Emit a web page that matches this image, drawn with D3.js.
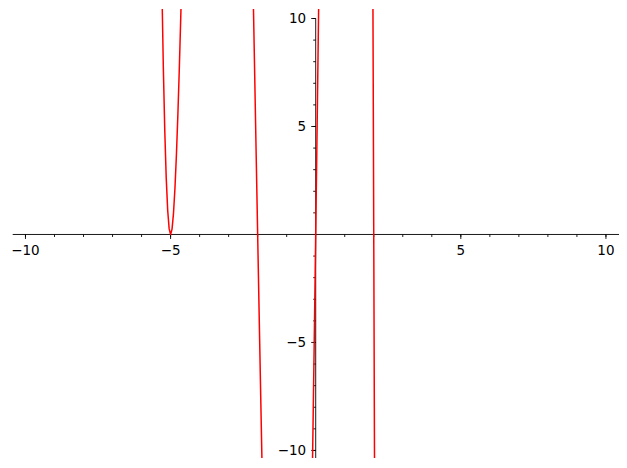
<!DOCTYPE html>
<html>
<head>
<meta charset="utf-8">
<script src="https://cdn.jsdelivr.net/npm/d3@7"></script>
<style>
  html, body { margin: 0; padding: 0; background: #fff; }
  svg { display: block; }
  text { font-family: "DejaVu Sans", sans-serif; font-size: 13.5px; fill: #000; }
</style>
</head>
<body>
<svg id="chart" width="627" height="468"></svg>
<script>
// Curve samples (x, y); values outside the view are clipped.
const curveX = [-5.4, -5.35, -5.3, -5.25, -5.2, -5.15, -5.1, -5.05, -5.0, -4.95, -4.9, -4.85, -4.8, -4.75, -4.7, -4.65, -4.6, -4.5,
                -2.2, -2.15, -2.1, -2.05, -2.0, -1.95, -1.9, -1.85, -1.8, -1.0,
                -0.2, -0.15, -0.1, -0.05, 0.0, 0.05, 0.1, 0.15, 1.0,
                1.95, 1.97, 1.975, 1.98, 1.99, 2.0, 2.01, 2.02, 2.025, 2.03];
const curveY = [21.0, 16.14, 11.49, 7.73, 4.79, 2.61, 1.12, 0.27, 0.0, 0.25, 0.98, 2.13, 3.66, 5.51, 7.65, 10.04, 12.63, 18.3,
                14.49, 10.87, 7.24, 3.61, 0.0, -3.58, -7.12, -10.60, -14.01, -48.0,
                -18.25, -14.03, -9.58, -4.90, 0.0, 5.10, 10.38, 15.82, 108.0,
                18.60, 11.40, 9.55, 7.68, 3.88, 0.0, -3.96, -8.00, -10.06, -12.13];
const xDomain = [-10.44, 10.45];
const yDomain = [-10.35, 10.44];
const majorTicks = [-10, -5, 5, 10];
const minorTicks = [-10,-9,-8,-7,-6,-5,-4,-3,-2,-1,1,2,3,4,5,6,7,8,9,10];
const yAxisTop = 10;

const svg = d3.select("#chart");
const x = d3.scaleLinear().domain(xDomain).range([12.7, 619]);
const y = d3.scaleLinear().domain(yDomain).range([458, 9]);
const fmt = v => (v < 0 ? "\u2212" + Math.abs(v) : String(v));

svg.append("defs").append("clipPath").attr("id", "clip")
  .append("rect").attr("x", x(xDomain[0])).attr("y", y(yDomain[1]))
  .attr("width", x(xDomain[1]) - x(xDomain[0])).attr("height", y(yDomain[0]) - y(yDomain[1]));

const x0 = x(0), y0 = y(0);

// x axis
const gx = svg.append("g").attr("stroke", "#000").attr("stroke-width", 0.9);
gx.append("line").attr("x1", x(xDomain[0])).attr("x2", x(xDomain[1])).attr("y1", y0).attr("y2", y0);
gx.selectAll(".mn").data(minorTicks).join("line")
  .attr("x1", d => x(d)).attr("x2", d => x(d)).attr("y1", y0).attr("y2", y0 + 2.5);
gx.selectAll(".mj").data(majorTicks).join("line")
  .attr("x1", d => x(d)).attr("x2", d => x(d)).attr("y1", y0).attr("y2", y0 + 4.5);
svg.append("g").selectAll("text").data(majorTicks).join("text")
  .attr("x", d => x(d)).attr("y", y0 + 21).attr("text-anchor", "middle").text(fmt);

// y axis
const gy = svg.append("g").attr("stroke", "#000").attr("stroke-width", 0.9);
gy.append("line").attr("x1", x0).attr("x2", x0).attr("y1", y(yAxisTop)).attr("y2", y(yDomain[0]));
gy.selectAll(".mn").data(minorTicks).join("line")
  .attr("x1", x0 - 2.5).attr("x2", x0).attr("y1", d => y(d)).attr("y2", d => y(d));
gy.selectAll(".mj").data(majorTicks).join("line")
  .attr("x1", x0 - 4.5).attr("x2", x0).attr("y1", d => y(d)).attr("y2", d => y(d));
svg.append("g").selectAll("text").data(majorTicks).join("text")
  .attr("x", x0 - 9.5).attr("y", d => y(d)).attr("dy", "0.36em").attr("text-anchor", "end").text(fmt);

// curve
const pts = curveX.map((v, i) => [v, curveY[i]]);
svg.append("path").attr("clip-path", "url(#clip)")
  .attr("d", d3.line().x(d => x(d[0])).y(d => y(d[1]))(pts))
  .attr("fill", "none").attr("stroke", "#ff0000").attr("stroke-width", 1.5)
  .attr("stroke-linejoin", "round");
</script>
</body>
</html>
